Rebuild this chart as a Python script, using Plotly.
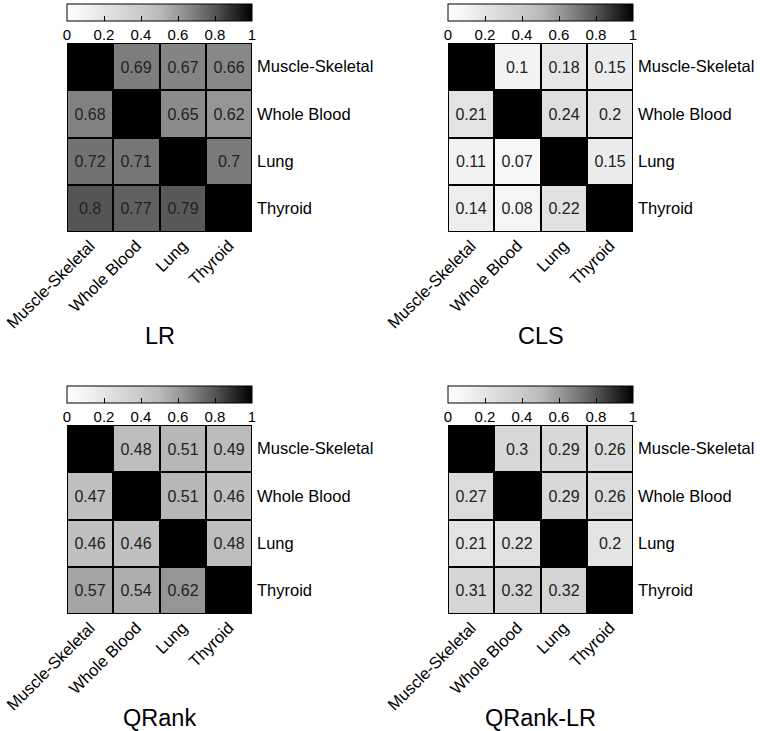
import plotly.graph_objects as go

tissues = ["Muscle-Skeletal", "Whole Blood", "Lung", "Thyroid"]
methods = ["LR", "CLS", "QRank", "QRank-LR"]

# rows top -> bottom, columns left -> right (diagonal = 1)
lr_vals = [[1, 0.69, 0.67, 0.66],
           [0.68, 1, 0.65, 0.62],
           [0.72, 0.71, 1, 0.7],
           [0.8, 0.77, 0.79, 1]]
cls_vals = [[1, 0.1, 0.18, 0.15],
            [0.21, 1, 0.24, 0.2],
            [0.11, 0.07, 1, 0.15],
            [0.14, 0.08, 0.22, 1]]
qrank_vals = [[1, 0.48, 0.51, 0.49],
              [0.47, 1, 0.51, 0.46],
              [0.46, 0.46, 1, 0.48],
              [0.57, 0.54, 0.62, 1]]
qranklr_vals = [[1, 0.3, 0.29, 0.26],
                [0.27, 1, 0.29, 0.26],
                [0.21, 0.22, 1, 0.2],
                [0.31, 0.32, 0.32, 1]]

cbar_ticks = [0, 0.2, 0.4, 0.6, 0.8, 1]
cbar_text = ["0", "0.2", "0.4", "0.6", "0.8", "1"]

grey = [[0, "#ffffff"], [0.1, "#f3f3f3"], [0.2, "#e4e4e4"], [0.3, "#d7d7d7"],
        [0.4, "#cacaca"], [0.5, "#bababa"], [0.6, "#9c9c9c"], [0.7, "#7a7a7a"],
        [0.8, "#555555"], [0.9, "#2a2a2a"], [1, "#000000"]]

W, H = 760, 731
FONT = "Liberation Sans, Arial, sans-serif"

# pixel boxes of each heatmap: (left, right, top, bottom)
boxes = [(67, 252, 43, 232), (448, 633, 43, 232),
         (67, 252, 425, 614), (448, 633, 425, 614)]
all_vals = [lr_vals, cls_vals, qrank_vals, qranklr_vals]

fig = go.Figure()
annotations = []
for i, (vals, name, box) in enumerate(zip(all_vals, methods, boxes)):
    l, r, t, b = box
    txt = [["" if ri == ci else f"{v:g}" for ci, v in enumerate(row)]
           for ri, row in enumerate(vals)]
    ax = "" if i == 0 else str(i + 1)
    fig.add_trace(go.Heatmap(
        z=vals, x=tissues, y=tissues, text=txt, texttemplate="%{text}",
        textfont=dict(size=16, color="#222222", family=FONT),
        colorscale=grey, zmin=0, zmax=1, xgap=2, ygap=2,
        xaxis="x" + ax, yaxis="y" + ax,
        colorbar=dict(orientation="h", lenmode="pixels", len=r - l,
                      thickness=17, x=(l + r) / 2 / W, xanchor="center",
                      y=1 - (t - 39) / H, yanchor="top", xpad=0, ypad=0,
                      outlinewidth=1, outlinecolor="black",
                      tickvals=cbar_ticks, ticktext=cbar_text,
                      ticks="inside", ticklen=5, tickcolor="black",
                      tickfont=dict(size=15, color="black", family=FONT)),
    ))
    fig.update_layout({
        "xaxis" + ax: dict(domain=[l / W, r / W], anchor="y" + ax,
                           tickangle=-45, showgrid=False, zeroline=False,
                           automargin=False, ticks="",
                           tickfont=dict(size=16.5, color="black", family=FONT)),
        "yaxis" + ax: dict(domain=[1 - b / H, 1 - t / H], anchor="x" + ax,
                           autorange="reversed", side="right", showgrid=False,
                           zeroline=False, automargin=False, ticks="",
                           ticklabelstandoff=4,
                           tickfont=dict(size=16.5, color="black", family=FONT)),
    })
    annotations.append(dict(text=name, x=(l + r) / 2 / W, y=1 - (b + 104) / H,
                            xref="paper", yref="paper", showarrow=False,
                            xanchor="center", yanchor="middle",
                            font=dict(size=23.5, color="black", family=FONT)))

fig.update_layout(width=W, height=H,
                  margin=dict(l=0, r=0, t=0, b=0, autoexpand=False),
                  plot_bgcolor="black", paper_bgcolor="white",
                  annotations=annotations, showlegend=False)

# drop the default 8px page margin so the figure sits at the window's corner
fig.write_html("out.html", config={"displayModeBar": False},
               post_script="document.body.style.margin='0';")
